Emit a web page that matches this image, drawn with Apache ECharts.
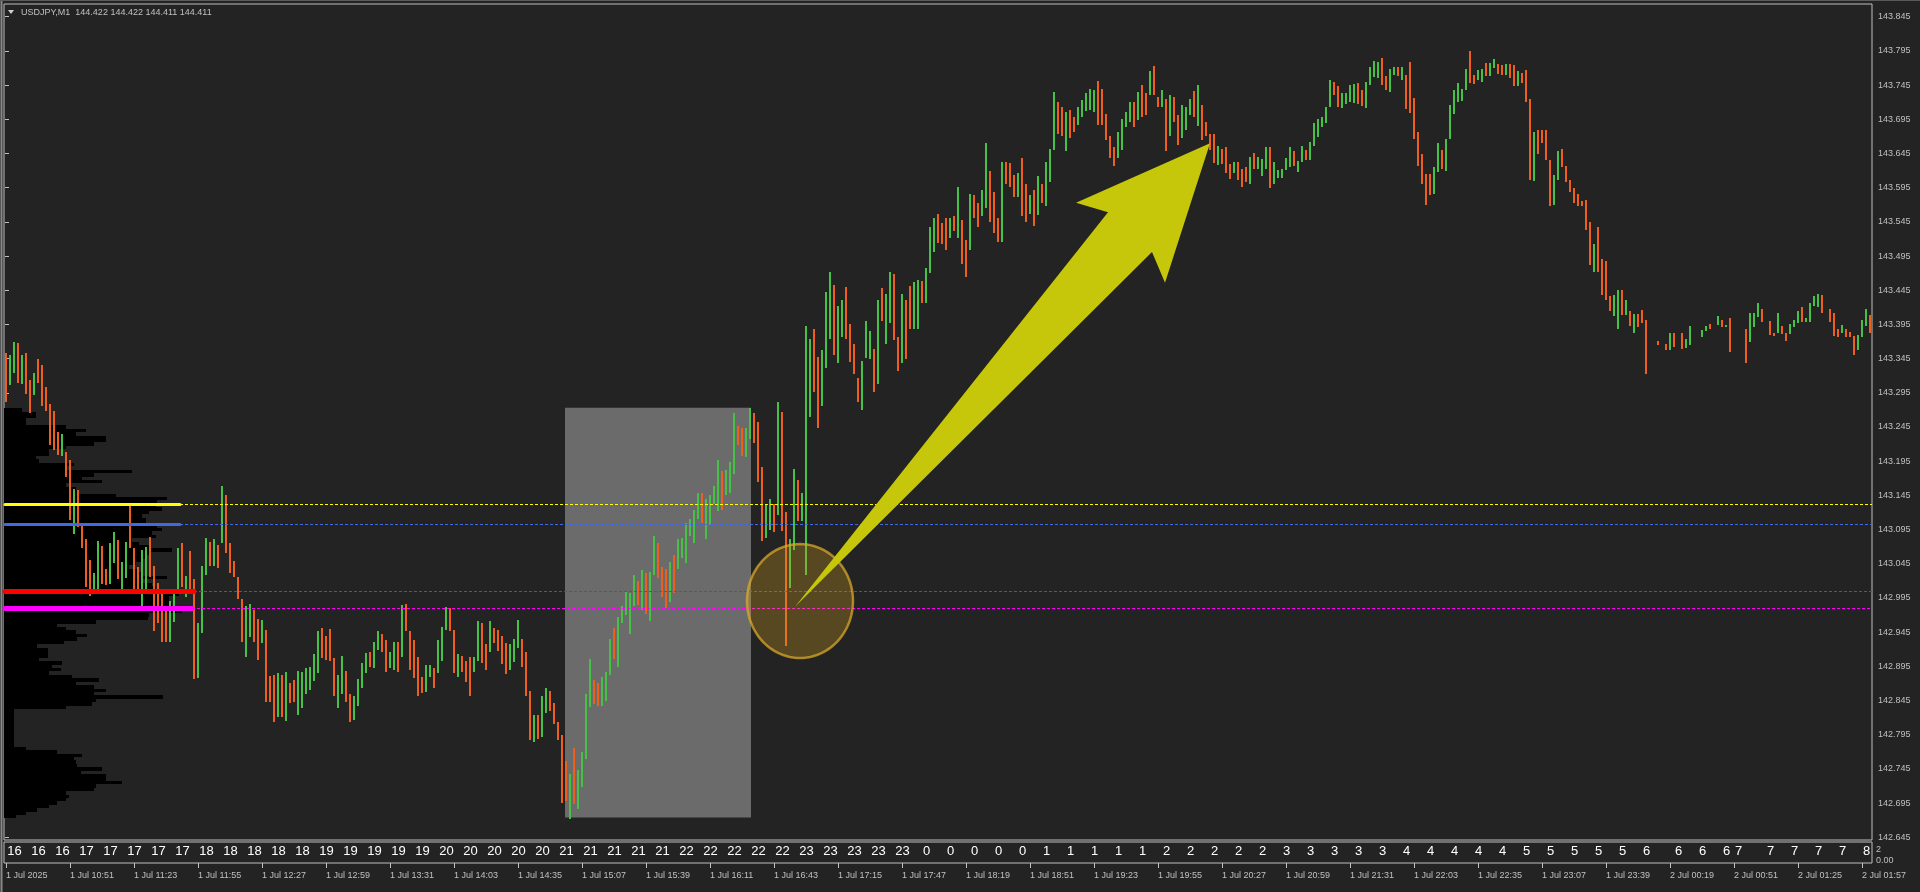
<!DOCTYPE html>
<html><head><meta charset="utf-8">
<script src="https://cdn.jsdelivr.net/npm/echarts@6/dist/echarts.min.js"></script>
<style>html,body{margin:0;padding:0;background:#232323;overflow:hidden}#c{width:1920px;height:892px}</style>
</head><body><div id="c"></div>
<script>
// ---------------- data ----------------
const symbolTitle = 'USDJPY,M1  144.422 144.422 144.411 144.411';
// 2-minute bars (high / low / up=1 down=0)
const highs = [
143.353,143.350,143.370,143.368,143.350,143.353,143.314,143.324,143.345,143.336,
143.303,143.279,143.268,143.238,143.235,143.209,143.197,143.154,143.153,143.100,
143.081,143.050,143.032,143.079,143.071,143.037,143.075,143.091,143.080,143.047,
143.077,143.130,143.068,143.040,143.065,143.070,143.084,143.041,143.017,143.002,
142.980,142.990,143.007,143.068,143.075,143.027,143.064,143.022,142.959,143.041,
143.082,143.077,143.081,143.072,143.158,143.146,143.075,143.049,143.026,142.994,
142.983,142.986,142.977,142.964,142.963,142.948,142.881,142.882,142.885,142.882,
142.886,142.870,142.875,142.888,142.887,142.893,142.894,142.913,142.946,142.951,
142.939,142.949,142.907,142.882,142.910,142.888,142.855,142.851,142.876,142.900,
142.914,142.916,142.930,142.946,142.942,142.934,142.916,142.931,142.931,142.984,
142.986,142.946,142.933,142.908,142.880,142.897,142.897,142.893,142.934,142.953,
142.982,142.980,142.948,142.913,142.910,142.903,142.908,142.908,142.961,142.959,
142.927,142.962,142.951,142.948,142.940,142.929,142.927,142.935,142.963,142.935,
142.916,142.859,142.824,142.824,142.851,142.864,142.859,142.841,142.814,142.794,
142.756,142.738,142.775,142.744,142.770,142.854,142.905,142.875,142.870,142.879,
142.886,142.935,142.951,142.967,142.983,143.003,143.002,143.028,143.020,143.036,
143.032,143.033,143.086,143.075,143.040,143.037,143.047,143.058,143.081,143.083,
143.105,143.111,143.124,143.148,143.148,143.140,143.146,143.158,143.197,143.181,
143.182,143.194,143.265,143.246,143.243,143.243,143.273,143.265,143.252,143.186,
143.131,143.140,143.133,143.281,143.267,143.121,143.081,143.184,143.167,143.148,
143.393,143.373,143.388,143.347,143.358,143.442,143.471,143.452,143.422,143.431,
143.450,143.395,143.366,143.316,143.342,143.400,143.386,143.359,143.431,143.448,
143.440,143.472,143.469,143.376,143.439,143.431,143.451,143.457,143.460,143.459,
143.477,143.538,143.550,143.556,143.543,143.550,143.550,143.553,143.596,143.548,
143.518,143.586,143.585,143.573,143.591,143.660,143.619,143.589,143.550,143.633,
143.632,143.631,143.613,143.616,143.639,143.600,143.584,143.591,143.612,143.601,
143.633,143.651,143.735,143.721,143.713,143.706,143.709,143.699,143.713,143.723,
143.733,143.739,143.738,143.751,143.740,143.703,143.670,143.655,143.677,143.696,
143.705,143.721,143.721,143.735,143.745,143.733,143.766,143.773,143.728,143.738,
143.724,143.731,143.728,143.701,143.716,143.713,143.725,143.737,143.745,143.716,
143.691,143.673,143.673,143.656,143.652,143.655,143.630,143.632,143.632,143.623,
143.625,143.640,143.645,143.640,143.637,143.655,143.655,143.632,143.621,143.622,
143.638,143.655,143.648,143.634,143.656,143.650,143.662,143.690,143.696,143.698,
143.713,143.752,143.750,143.743,143.733,143.734,143.745,143.747,143.748,143.738,
143.750,143.772,143.780,143.779,143.784,143.758,143.769,143.772,143.772,143.772,
143.760,143.779,143.726,143.677,143.644,143.615,143.615,143.625,143.661,143.650,
143.666,143.716,143.738,143.748,143.739,143.769,143.795,143.760,143.767,143.768,
143.778,143.778,143.783,143.776,143.775,143.776,143.776,143.774,143.766,143.762,
143.767,143.725,143.677,143.680,143.679,143.679,143.635,143.613,143.648,143.652,
143.627,143.606,143.594,143.586,143.575,143.577,143.545,143.513,143.537,143.490,
143.488,143.436,143.438,143.445,143.445,143.431,143.415,143.410,143.410,143.416,
143.401,null,null,143.371,null,143.366,143.382,143.382,null,143.382,
143.374,143.393,null,null,143.387,143.393,143.396,null,143.407,143.401,
143.394,143.404,null,null,null,143.388,143.411,143.411,143.426,143.417,
null,143.400,143.383,143.411,143.393,143.382,143.396,143.401,143.415,143.420,
143.405,143.426,143.437,143.439,143.438,null,143.417,143.411,143.389,143.394,
143.389,143.384,143.378,143.379,143.402,143.417,143.409];
const lows = [
143.281,143.306,143.324,143.309,143.308,143.293,143.265,143.292,143.309,143.276,
143.269,143.219,143.211,143.204,143.202,143.172,143.109,143.089,143.099,143.068,
143.011,142.998,143.008,143.008,143.015,143.014,143.016,143.046,143.022,143.008,
143.024,143.068,143.008,143.008,142.982,143.008,143.026,142.946,142.958,142.930,
142.931,142.931,142.960,143.002,143.011,142.997,143.002,142.877,142.878,142.943,
143.028,143.041,143.042,143.039,143.075,143.061,143.031,143.026,142.993,142.931,
142.909,142.938,142.931,142.904,142.929,142.843,142.843,142.814,142.821,142.821,
142.815,142.842,142.843,142.824,142.834,142.855,142.860,142.873,142.885,142.907,
142.904,142.903,142.852,142.834,142.855,142.843,142.814,142.817,142.837,142.864,
142.885,142.894,142.893,142.919,142.916,142.886,142.892,142.890,142.887,142.909,
142.946,142.890,142.878,142.852,142.856,142.858,142.880,142.863,142.885,142.903,
142.948,142.947,142.885,142.880,142.887,142.872,142.851,142.886,142.903,142.900,
142.890,142.916,142.929,142.918,142.898,142.884,142.889,142.901,142.922,142.894,
142.852,142.787,142.785,142.789,142.791,142.826,142.829,142.810,142.787,142.695,
142.698,142.672,142.694,142.687,142.719,142.759,142.836,142.840,142.837,142.837,
142.845,142.882,142.906,142.894,142.959,142.970,142.942,142.983,142.985,142.978,
142.971,142.962,143.029,143.024,142.996,142.981,142.989,143.002,143.037,143.054,
143.046,143.086,143.075,143.111,143.105,143.081,143.102,143.132,143.122,143.124,
143.146,143.148,143.176,143.218,143.202,143.201,143.227,143.221,143.164,143.078,
143.082,143.094,143.092,143.117,143.093,142.925,143.010,143.065,143.108,143.108,
143.028,143.259,143.296,143.243,143.276,143.332,143.373,143.350,143.338,143.376,
143.373,143.340,143.322,143.282,143.270,143.346,143.344,143.296,143.308,143.400,
143.367,143.397,143.372,143.327,143.339,143.345,143.389,143.388,143.389,143.426,
143.427,143.470,143.501,143.514,143.512,143.504,143.521,143.531,143.521,143.484,
143.465,143.504,143.550,143.538,143.553,143.565,143.545,143.529,143.515,143.516,
143.601,143.596,143.582,143.582,143.554,143.545,143.557,143.539,143.555,143.572,
143.568,143.604,143.650,143.673,143.670,143.648,143.667,143.677,143.687,143.698,
143.707,143.709,143.706,143.687,143.687,143.665,143.638,143.626,143.638,143.650,
143.684,143.691,143.683,143.694,143.699,143.701,143.730,143.730,143.713,143.713,
143.649,143.670,143.691,143.657,143.667,143.679,143.701,143.699,143.685,143.665,
143.670,143.650,143.631,143.628,143.630,143.616,143.607,143.616,143.606,143.596,
143.604,143.601,143.622,143.623,143.612,143.623,143.594,143.600,143.609,143.609,
143.621,143.625,143.627,143.618,143.633,143.635,143.635,143.656,143.669,143.684,
143.689,143.713,143.730,143.713,143.711,143.718,143.721,143.719,143.718,143.714,
143.711,143.745,143.757,143.755,143.745,143.738,143.735,143.760,143.758,143.753,
143.710,143.704,143.666,143.626,143.600,143.570,143.584,143.586,143.618,143.622,
143.620,143.666,143.703,143.721,143.722,143.738,143.748,143.747,143.753,143.750,
143.759,143.758,143.770,143.761,143.760,143.760,143.756,143.743,143.744,143.748,
143.721,143.606,143.605,143.644,143.661,143.635,143.568,143.570,143.606,143.625,
143.604,143.588,143.572,143.568,143.568,143.533,143.482,143.472,143.472,143.438,
143.431,143.414,143.408,143.388,143.409,143.409,143.392,143.382,143.391,143.397,
143.322,null,null,143.365,null,143.357,143.357,143.362,null,143.359,
143.360,143.365,null,null,143.377,143.386,143.389,null,143.394,143.391,
143.391,143.355,null,null,null,143.339,143.370,143.391,143.406,143.399,
null,143.379,143.378,143.382,143.381,143.371,143.381,143.391,143.397,143.399,
143.398,143.399,143.422,143.421,143.412,null,143.398,143.378,143.377,143.383,
143.377,143.377,143.350,143.357,143.377,143.392,143.382];
const ups = [
0,1,1,0,1,0,0,1,0,0, 0,0,0,0,1,0,0,1,0,0, 0,0,1,1,0,0,1,1,0,1, 1,0,0,0,1,1,0,0,0,0,
0,1,1,1,0,1,0,0,1,1, 1,0,1,0,1,0,0,0,0,0, 1,1,0,0,1,0,0,0,1,0, 1,0,0,1,1,1,1,1,1,0,
0,0,0,1,1,0,0,1,1,1, 1,0,1,1,0,0,1,1,0,1, 0,0,0,0,0,1,1,0,1,1, 1,0,0,1,0,0,0,1,1,0,
0,1,0,0,0,0,1,1,1,0, 0,0,1,0,1,1,0,0,0,0, 0,1,0,1,1,1,1,0,0,1, 1,1,0,1,1,1,1,1,0,1,
0,1,1,0,0,0,1,0,1,1, 1,1,1,1,0,1,1,1,1,0, 1,1,1,0,0,1,1,0,0,0, 1,1,0,1,0,0,1,1,0,1,
1,1,0,0,1,1,1,0,1,1, 0,0,0,0,1,1,1,0,1,0, 1,1,0,0,1,0,0,1,1,0, 1,1,1,0,0,0,1,0,1,0,
0,1,0,0,1,1,0,0,0,1, 0,0,0,1,0,0,1,0,1,0, 1,1,1,0,0,1,0,0,1,1, 1,1,1,0,0,0,0,0,1,1,
1,1,0,1,0,0,1,0,0,1, 0,1,0,0,1,1,1,0,1,0, 0,0,0,1,0,0,0,1,0,0, 0,1,0,1,1,1,0,1,1,1,
1,1,0,1,1,0,1,1,1,1, 1,1,0,0,1,1,1,1,0,0, 1,1,1,1,0,0,1,1,0,1, 0,0,0,0,0,0,0,1,1,0,
1,1,1,1,1,1,0,0,1,1, 0,1,1,0,0,1,0,0,1,0, 0,0,1,0,0,0,0,1,1,0, 0,0,0,0,0,0,0,1,0,0,
0,0,1,1,0,1,0,1,0,0, 0,null,null,0,null,0,1,0,null,0, 1,1,null,null,1,1,0,null,1,0,
1,0,null,null,null,0,1,1,1,0, null,0,0,1,0,0,1,1,1,0, 1,1,1,1,0,null,0,0,0,1,
0,0,0,1,1,1,0];

// axis tick labels
const priceTicks = [142.645,142.695,142.745,142.795,142.845,142.895,142.945,142.995,143.045,143.095,
  143.145,143.195,143.245,143.295,143.345,143.395,143.445,143.495,143.545,143.595,143.645,143.695,
  143.745,143.795,143.845];
const timeLabels = ['1 Jul 2025','1 Jul 10:51','1 Jul 11:23','1 Jul 11:55','1 Jul 12:27','1 Jul 12:59',
  '1 Jul 13:31','1 Jul 14:03','1 Jul 14:35','1 Jul 15:07','1 Jul 15:39','1 Jul 16:11','1 Jul 16:43',
  '1 Jul 17:15','1 Jul 17:47','1 Jul 18:19','1 Jul 18:51','1 Jul 19:23','1 Jul 19:55','1 Jul 20:27',
  '1 Jul 20:59','1 Jul 21:31','1 Jul 22:03','1 Jul 22:35','1 Jul 23:07','1 Jul 23:39','2 Jul 00:19',
  '2 Jul 00:51','2 Jul 01:25','2 Jul 01:57'];
const hourLabels = ['16','16','16','17','17','17','17','17','18','18','18','18','18','19','19','19','19','19',
  '20','20','20','20','20','21','21','21','21','21','22','22','22','22','22','23','23','23','23','23',
  '0','0','0','0','0','1','1','1','1','1','2','2','2','2','2','3','3','3','3','3','4','4','4','4','4',
  '5','5','5','5','5','6','6','6','6','7','7','7','7','7','8'];
const hourLabelBars = [0,6,12,18,24,30,36,42,48,54,60,66,72,78,84,90,96,102,108,114,120,126,132,138,144,
  150,156,162,168,174,180,186,192,198,204,210,216,222,228,234,240,246,252,258,264,270,276,282,288,294,
  300,306,312,318,324,330,336,342,348,354,360,366,372,378,384,390,396,402,408,416,422,428,431,439,445,
  451,457,463];

// volume profile (bins of 0.005 from the top price down)
const profileTopPrice = 143.270;
const profileStep = 0.005;
const profileVolumes = [18,32,32,22,22,62,82,72,102,102, 90,62,45,45,32,35,70,62,128,90,
  78,98,62,72,73,112,163,153,152,158, 145,138,142,142,153,158,148,152,128,135,
  145,168,145,142,138,132,125,135,138,163, 138,148,152,162,175,165,165,168,178,178,
  145,144,92,53,62,72,83,73,60,33, 44,44,44,35,58,48,57,45,68,95,
  72,90,102,90,159,92,88,62,10,10, 10,10,10,10,10,10,10,10,10,22,
  53,78,70,72,73,98,77,102,102,118, 92,90,62,65,62,53,45,33,22,12];

// horizontal levels (price) and where the thick part ends (minute index)
const levelPrices = [143.133, 143.103, 143.005, 142.980];
const levelEndMinutes = [87.5, 87.5, 94.5, 93.5];

// annotations in data space (minute index, price)
const zoneMinutes = [280, 373];
const zonePrices = [142.674, 143.273];
const circleCenter = [397.5, 142.9905];
const circleRadii = [27, 0.0848];
const arrowMinutes = [395, 551.5, 535.5, 602.5, 580, 573.5];
const arrowPrices = [142.982, 143.559, 143.573, 143.660, 143.456, 143.501];

// ---------------- styles ----------------
const BG = '#232323', FRAME = '#c0c0c0', TEXT = '#c0c0c0';
const UP = '#46c046', DOWN = '#ee5f1e';
const FONT = "'Liberation Sans', Arial, sans-serif";
const levelColors = ['#ffff00', '#4169e1', '#ff0000', '#ff00ff'];
const levelDashColors = ['#ffff00', '#4169e1', '#e02020', '#ff00ff'];
const levelWidths = [3, 3, 5, 5];
const Y_MIN = 142.641, Y_MAX = 143.8636;

const barIndex = highs.map((_, i) => String(i));
const barData = [];
highs.forEach((h, i) => { if (h != null && lows[i] != null) barData.push([i, lows[i], h, ups[i]]); });
const hourAt = {};
hourLabelBars.forEach((b, k) => { hourAt[b] = hourLabels[k]; });

const chart = echarts.init(document.getElementById('c'), null, {renderer: 'canvas', width: 1920, height: 892});
const option = {
  backgroundColor: BG,
  animation: false,
  grid: [
    {left: 4, top: 4, width: 1868, height: 836, show: true, borderColor: FRAME, borderWidth: 1},
    {left: 4, top: 842, width: 1868, height: 21, show: true, borderColor: FRAME, borderWidth: 1},
    {left: 4, top: 4, width: 1868, height: 836, show: false}
  ],
  xAxis: [
    {type: 'category', gridIndex: 0, data: barIndex, boundaryGap: true, show: false},
    {type: 'value', gridIndex: 0, min: -0.5, max: 933.5, show: false},
    {type: 'category', gridIndex: 1, data: barIndex, position: 'bottom', boundaryGap: true,
      axisLine: {show: false},
      axisTick: {show: true, alignWithLabel: true, interval: (i) => i % 16 === 0, length: 5, lineStyle: {color: FRAME}},
      axisLabel: {interval: (i) => i % 16 === 0, formatter: (v, i) => timeLabels[i / 16] || '',
        align: 'left', color: TEXT, fontSize: 9, fontFamily: FONT, margin: 8},
      splitLine: {show: false}},
    {type: 'category', gridIndex: 1, data: barIndex, position: 'top', boundaryGap: true,
      axisLine: {show: false}, axisTick: {show: false}, splitLine: {show: false},
      axisLabel: {inside: true, margin: 3, interval: (i) => hourAt[i] !== undefined,
        formatter: (v, i) => '{h|' + hourAt[i] + '}',
        rich: {h: {color: '#ffffff', fontSize: 13, fontFamily: "'Liberation Sans Narrow','Liberation Sans',sans-serif", padding: [0, 0, 0, 17]}}}},
    {type: 'value', gridIndex: 2, min: 0, max: 1868, show: false}
  ],
  yAxis: [
    {type: 'value', gridIndex: 0, position: 'right', min: Y_MIN, max: Y_MAX,
      splitLine: {show: false}, axisLine: {show: false},
      axisTick: {show: true, customValues: priceTicks, length: 4, lineStyle: {color: FRAME}},
      axisLabel: {customValues: priceTicks, formatter: (v) => v.toFixed(3), color: TEXT, fontSize: 9, fontFamily: FONT, margin: 6}},
    {type: 'value', gridIndex: 1, min: 0, max: 2, show: false},
    {type: 'value', gridIndex: 2, min: Y_MIN, max: Y_MAX, show: false}
  ],
  graphic: [
    {type: 'line', shape: {x1: 1.5, y1: 0, x2: 1.5, y2: 892}, style: {stroke: '#8a8a8a', lineWidth: 2}},
    {type: 'line', shape: {x1: 0, y1: 0.5, x2: 1920, y2: 0.5}, style: {stroke: '#5a5a5a', lineWidth: 1}},
    {type: 'polygon', shape: {points: [[8, 10], [14, 10], [11, 14]]}, style: {fill: '#d0d0d0'}},
    {type: 'text', x: 21, y: 13, style: {text: symbolTitle, fill: TEXT, font: '9px ' + FONT, verticalAlign: 'middle'}},
    {type: 'text', x: 1876, y: 850, style: {text: '2', fill: TEXT, font: '9px ' + FONT, verticalAlign: 'middle'}},
    {type: 'text', x: 1876, y: 861, style: {text: '0.00', fill: TEXT, font: '9px ' + FONT, verticalAlign: 'middle'}}
  ],
  series: [
    { // volume profile
      type: 'custom', coordinateSystem: 'cartesian2d', xAxisIndex: 4, yAxisIndex: 2, z: 1, silent: true,
      data: profileVolumes.map((v, i) => [v, profileTopPrice - i * profileStep]),
      renderItem: (params, api) => {
        const a = api.coord([0, api.value(1) + profileStep / 2]);
        const b = api.coord([api.value(0), api.value(1) - profileStep / 2]);
        const y0 = Math.round(a[1]), y1 = Math.round(b[1]);
        return {type: 'rect', shape: {x: a[0], y: y0, width: b[0] - a[0], height: y1 - y0}, style: {fill: '#000000'}};
      }
    },
    { // grey zone
      type: 'custom', coordinateSystem: 'cartesian2d', xAxisIndex: 1, yAxisIndex: 0, z: 1, silent: true,
      data: [[zoneMinutes[0], zonePrices[0], zoneMinutes[1], zonePrices[1]]],
      encode: {x: [0, 2], y: [1, 3]},
      renderItem: (params, api) => {
        const a = api.coord([api.value(0), api.value(3)]);
        const b = api.coord([api.value(2), api.value(1)]);
        return {type: 'rect', shape: {x: a[0], y: a[1], width: b[0] - a[0], height: b[1] - a[1]}, style: {fill: '#6b6b6b'}};
      }
    },
    { // price bars (high-low range, coloured by direction)
      type: 'custom', coordinateSystem: 'cartesian2d', xAxisIndex: 0, yAxisIndex: 0, z: 2, silent: true,
      data: barData, encode: {x: 0, y: [1, 2]},
      renderItem: (params, api) => {
        const top = api.coord([api.value(0), api.value(2)]);
        const bot = api.coord([api.value(0), api.value(1)]);
        const x = Math.round(top[0]) - 1;
        const y0 = Math.round(top[1]);
        let y1 = Math.round(bot[1]);
        if (y1 - y0 < 1) y1 = y0 + 1;
        return {type: 'rect', shape: {x: x, y: y0, width: 2, height: y1 - y0},
          style: {fill: api.value(3) ? UP : DOWN}};
      }
    },
    { // levels
      type: 'custom', coordinateSystem: 'cartesian2d', xAxisIndex: 1, yAxisIndex: 0, z: 3, silent: true,
      data: levelPrices.map((p, i) => [levelEndMinutes[i], p]),
      renderItem: (params, api) => {
        const i = params.dataIndex;
        const s = api.coord([-0.5, api.value(1)]);
        const m = api.coord([api.value(0), api.value(1)]);
        const e = api.coord([933.5, api.value(1)]);
        const y = Math.round(s[1]) + 0.5;
        return {type: 'group', children: [
          {type: 'line', shape: {x1: m[0], y1: y, x2: e[0], y2: y}, style: {stroke: levelDashColors[i], lineWidth: 1, lineDash: [3, 2]}},
          {type: 'line', shape: {x1: s[0] + 1, y1: y, x2: m[0], y2: y}, style: {stroke: levelColors[i], lineWidth: levelWidths[i], lineCap: 'round'}}
        ]};
      }
    },
    { // highlight ellipse
      type: 'custom', coordinateSystem: 'cartesian2d', xAxisIndex: 1, yAxisIndex: 0, z: 4, silent: true,
      data: [[circleCenter[0], circleCenter[1]]],
      renderItem: (params, api) => {
        const c = api.coord([api.value(0), api.value(1)]);
        const r = api.size([circleRadii[0], circleRadii[1]]);
        const pts = [];
        for (let t = 0; t < 96; t++) {
          const a = t / 96 * Math.PI * 2;
          pts.push([c[0] + (r[0] - 1) * Math.cos(a), c[1] + (r[1] - 1) * Math.sin(a)]);
        }
        return {type: 'polygon', shape: {points: pts}, style: {fill: 'rgba(218,165,32,0.29)', stroke: 'rgba(222,170,40,0.72)', lineWidth: 2.5}};
      }
    },
    { // arrow
      type: 'custom', coordinateSystem: 'cartesian2d', xAxisIndex: 1, yAxisIndex: 0, z: 5, silent: true,
      data: [[arrowMinutes[0], arrowPrices[0]]],
      renderItem: (params, api) => {
        const pts = arrowMinutes.map((m, i) => api.coord([m, arrowPrices[i]]));
        return {type: 'polygon', shape: {points: pts}, style: {fill: '#c6c60a'}};
      }
    }
  ]
};
chart.setOption(option);
</script>
</body></html>
